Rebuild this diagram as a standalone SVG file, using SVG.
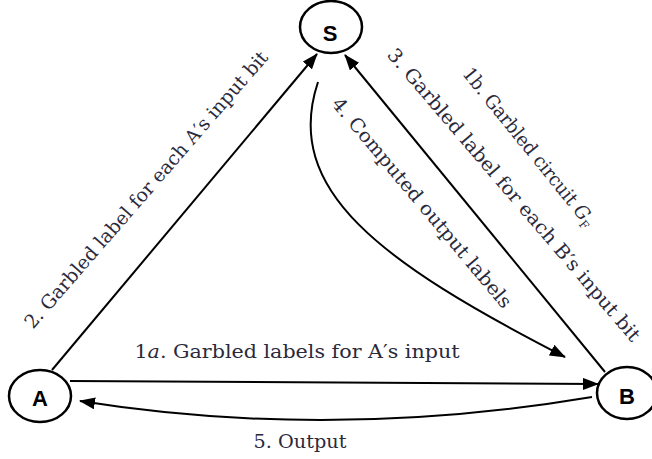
<svg xmlns="http://www.w3.org/2000/svg" width="652" height="459" viewBox="0 0 652 459">
<style>
  .node { fill: #ffffff; stroke: #000000; stroke-width: 2.5; }
  .nlabel { font-family: "Liberation Sans", Arial, sans-serif; font-weight: bold; font-size: 22px; fill: #000000; text-anchor: middle; }
  .edge { fill: none; stroke: #000000; stroke-width: 2; }
  .elabel { font-family: "DejaVu Serif", "Liberation Serif", serif; font-size: 19px; fill: #2a2a3c; text-anchor: middle; }
</style>
<defs>
  <marker id="arrow" markerUnits="userSpaceOnUse" markerWidth="16" markerHeight="12" refX="15" refY="6" orient="auto">
    <path d="M0,0 L16,6 L0,12 Z" fill="#000000"/>
  </marker>
</defs>
<rect width="652" height="459" fill="#ffffff"/>
<g id="connectors">
  <line id="e-A-S" class="edge" x1="52" y1="370" x2="317" y2="54" marker-end="url(#arrow)"/>
  <line id="e-B-S" class="edge" x1="605" y1="372" x2="345" y2="55" marker-end="url(#arrow)"/>
  <path id="e-S-B" class="edge" d="M318,82 C282,190 380,262 565,357" marker-end="url(#arrow)"/>
  <path id="e-A-B" class="edge" d="M70,381 L598,384" marker-end="url(#arrow)"/>
  <path id="e-B-A" class="edge" d="M592,397 Q330,441 80,401" marker-end="url(#arrow)"/>
</g>
<g id="labels">
  <text class="elabel" transform="translate(151,194) rotate(-49)" textLength="360" lengthAdjust="spacingAndGlyphs">2. Garbled label for each A′s input bit</text>
  <text class="elabel" transform="translate(509,199) rotate(49.5)" textLength="378" lengthAdjust="spacingAndGlyphs">3. Garbled label for each B′s input bit</text>
  <text class="elabel" transform="translate(524,151) rotate(51)" textLength="198" lengthAdjust="spacingAndGlyphs">1b. Garbled circuit <tspan font-style="italic">G</tspan><tspan font-size="12px" dy="4">F</tspan></text>
  <text class="elabel" transform="translate(417,207) rotate(50)" textLength="268" lengthAdjust="spacingAndGlyphs">4. Computed output labels</text>
  <text class="elabel" x="297" y="358" textLength="325" lengthAdjust="spacingAndGlyphs">1<tspan font-style="italic">a</tspan>.  Garbled labels for A′s input</text>
  <text class="elabel" x="300" y="448" textLength="93" lengthAdjust="spacingAndGlyphs">5. Output</text>
</g>
<g id="node-S">
  <ellipse class="node" cx="331" cy="27" rx="31" ry="26"/>
  <text class="nlabel" x="330" y="41">S</text>
</g>
<g id="node-A">
  <ellipse class="node" cx="40" cy="396" rx="31" ry="26"/>
  <text class="nlabel" x="40" y="406">A</text>
</g>
<g id="node-B">
  <ellipse class="node" cx="627" cy="393" rx="30" ry="26"/>
  <text class="nlabel" x="627" y="404">B</text>
</g>
</svg>
